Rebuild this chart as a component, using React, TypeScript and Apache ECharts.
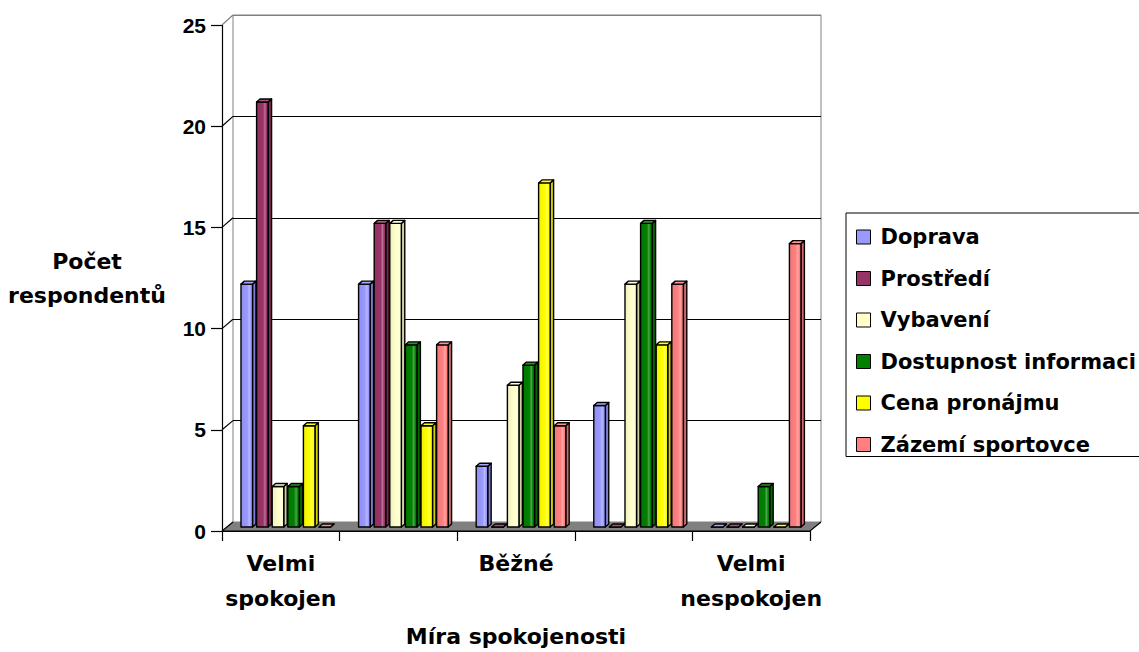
import { useEffect, useRef } from "react";
import * as echarts from "echarts";

// Satisfaction categories (only every other one carries a label)
const categories = ["Velmi\nspokojen", "", "Běžné", "", "Velmi\nnespokojen"];

// Number of respondents per category, one array per aspect
const doprava = [12, 12, 3, 6, 0];
const prostredi = [21, 15, 0, 0, 0];
const vybaveni = [2, 15, 7, 12, 0];
const dostupnostInformaci = [2, 9, 8, 15, 2];
const cenaPronajmu = [5, 5, 17, 9, 0];
const zazemiSportovce = [0, 9, 5, 12, 14];

const seriesNames = [
  "Doprava",
  "Prostředí",
  "Vybavení",
  "Dostupnost informaci",
  "Cena pronájmu",
  "Zázemí sportovce",
];
const seriesValues = [doprava, prostredi, vybaveni, dostupnostInformaci, cenaPronajmu, zazemiSportovce];
const seriesColors = ["#9999FF", "#993366", "#FFFFCC", "#008000", "#FFFF00", "#FF8080"];

const yMax = 25;
const yStep = 5;
const yTicks = [0, 5, 10, 15, 20, 25];

// Pseudo-3D frame: front plane (axes), back wall, and the plane the bars stand in
const FRONT = { left: 222, top: 25, width: 588, height: 506 };
const BACK = { left: 233, top: 15, width: 588, height: 507 };
const BARS = { left: 228, top: 21, width: 588, height: 506 };

const FONT = "'DejaVu Sans', sans-serif";
const NUM_FONT = "'Liberation Sans', Arial, sans-serif";

function shade(hex: string, f: number): string {
  const n = parseInt(hex.slice(1), 16);
  const ch = [(n >> 16) & 255, (n >> 8) & 255, n & 255].map((c) =>
    Math.round(f < 0 ? c * (1 + f) : c + (255 - c) * f)
  );
  return "rgb(" + ch.join(",") + ")";
}

const frontY = (v: number) => FRONT.top + FRONT.height * (1 - v / yMax);
const backY = (v: number) => BACK.top + BACK.height * (1 - v / yMax);

function makeBarRenderer(idx: number) {
  const color = seriesColors[idx];
  return (_params: any, api: any) => {
    const cat = api.value(0);
    const val = api.value(1);
    const base = api.coord([cat, 0]);
    const top = api.coord([cat, val]);
    const catW = api.size([1, 0])[0];
    const slot = catW * 0.1327;
    const fw = slot * 0.74;
    const d = slot * 0.22;
    const dy = 3;
    const x0 = base[0] - 3 * slot + idx * slot + 1;
    const yt = top[1];
    const yb = base[1];
    const line = { stroke: "#000", lineWidth: 1.4, lineJoin: "round" };
    return {
      type: "group",
      children: [
        {
          type: "polygon",
          shape: {
            points: [
              [x0 + fw, yt],
              [x0 + fw + d, yt - dy],
              [x0 + fw + d, yb - dy],
              [x0 + fw, yb],
            ],
          },
          style: { fill: shade(color, -0.18), ...line },
        },
        {
          type: "rect",
          shape: { x: x0, y: yt, width: fw, height: Math.max(0, yb - yt) },
          style: {
            fill: new echarts.graphic.LinearGradient(0, 0, 1, 0, [
              { offset: 0, color: shade(color, -0.06) },
              { offset: 0.55, color: color },
              { offset: 0.72, color: shade(color, 0.3) },
              { offset: 0.86, color: color },
              { offset: 1, color: shade(color, -0.06) },
            ]),
            ...line,
          },
        },
        {
          type: "polygon",
          shape: {
            points: [
              [x0, yt],
              [x0 + fw, yt],
              [x0 + fw + d, yt - dy],
              [x0 + d, yt - dy],
            ],
          },
          style: { fill: shade(color, 0.15), ...line },
        },
      ],
    };
  };
}

export default function App() {
  const ref = useRef<HTMLDivElement>(null);

  useEffect(() => {
    if (!ref.current) return;
    const chart = echarts.init(ref.current, undefined, { renderer: "svg" });

    const floorBottom = FRONT.top + FRONT.height;
    const backBottom = BACK.top + BACK.height;

    const graphics: any[] = [
      {
        type: "polygon",
        z: 1,
        shape: {
          points: [
            [FRONT.left, floorBottom],
            [FRONT.left + FRONT.width, floorBottom],
            [BACK.left + BACK.width, backBottom],
            [BACK.left, backBottom],
          ],
        },
        style: { fill: "#808080" },
      },
      {
        type: "polyline",
        z: 1,
        shape: {
          points: [
            [FRONT.left, floorBottom],
            [FRONT.left + FRONT.width, floorBottom],
            [BACK.left + BACK.width, backBottom],
          ],
        },
        style: { stroke: "#000", lineWidth: 1.2, fill: "none" },
      },
      ...yTicks.map((v) => ({
        type: "line",
        z: 1,
        shape: { x1: FRONT.left, y1: frontY(v), x2: BACK.left, y2: backY(v) },
        style: { stroke: v === yMax ? "#808080" : "#000", lineWidth: 1.2 },
      })),
    ];

    const textStyle = { fontFamily: FONT, fontWeight: "bold" as const, fontSize: 22, color: "#000" };

    chart.setOption({
      animation: false,
      backgroundColor: "#fff",
      grid: [
        { ...FRONT, containLabel: false },
        {
          ...BACK,
          containLabel: false,
          show: true,
          borderColor: "#808080",
          borderWidth: 1,
          backgroundColor: "transparent",
        },
        { ...BARS, containLabel: false },
      ],
      xAxis: [
        {
          type: "category",
          gridIndex: 0,
          data: categories,
          axisLine: { lineStyle: { color: "#000", width: 1.2 } },
          axisTick: { show: true, length: 10, lineStyle: { color: "#000", width: 1.2 } },
          axisLabel: { ...textStyle, interval: 0, lineHeight: 35, margin: 15 },
          name: "Míra spokojenosti",
          nameLocation: "middle",
          nameGap: 105,
          nameTextStyle: { ...textStyle, verticalAlign: "middle" },
        },
        { type: "category", gridIndex: 1, data: categories, show: false },
        { type: "category", gridIndex: 2, data: categories, show: false },
      ],
      yAxis: [
        {
          type: "value",
          gridIndex: 0,
          min: 0,
          max: yMax,
          interval: yStep,
          axisLine: { show: true, lineStyle: { color: "#000", width: 1.2 } },
          axisTick: { show: true, length: 11, lineStyle: { color: "#000", width: 1.2 } },
          axisLabel: { fontFamily: NUM_FONT, fontWeight: "bold", fontSize: 21, color: "#000", margin: 16 },
          splitLine: { show: false },
          name: "Počet\nrespondentů",
          nameLocation: "middle",
          nameRotate: 0,
          nameGap: 135,
          nameTextStyle: { ...textStyle, align: "center", verticalAlign: "middle", lineHeight: 34 },
        },
        {
          type: "value",
          gridIndex: 1,
          min: 0,
          max: yMax,
          interval: yStep,
          axisLine: { show: false },
          axisTick: { show: false },
          axisLabel: { show: false },
          splitLine: {
            show: true,
            lineStyle: { color: ["#000", "#000", "#000", "#000", "#000", "#808080"], width: 1.2 },
          },
        },
        { type: "value", gridIndex: 2, min: 0, max: yMax, show: false, splitLine: { show: false } },
      ],
      legend: {
        data: seriesNames,
        orient: "vertical",
        left: 846,
        top: 213,
        padding: [12, 40, 0, 10],
        itemGap: 17.5,
        itemWidth: 19,
        itemHeight: 14,
        icon: "path://M0 0H14V14H0Z M19 7L19 7",
        itemStyle: { borderColor: "#000", borderWidth: 1 },
        borderColor: "#000",
        borderWidth: 1,
        selectedMode: false,
        textStyle: { ...textStyle, fontSize: 21, lineHeight: 24 },
      },
      graphic: graphics,
      series: seriesNames.map((name, i) => ({
        type: "custom",
        name,
        xAxisIndex: 2,
        yAxisIndex: 2,
        z: 3,
        itemStyle: { color: seriesColors[i] },
        encode: { x: 0, y: 1 },
        data: seriesValues[i].map((v, c) => [c, v]),
        renderItem: makeBarRenderer(i),
      })),
    });

    return () => chart.dispose();
  }, []);

  return (
    <div
      ref={ref}
      style={{ position: "fixed", left: 0, top: 0, width: 1139, height: 652, background: "#fff" }}
    />
  );
}
